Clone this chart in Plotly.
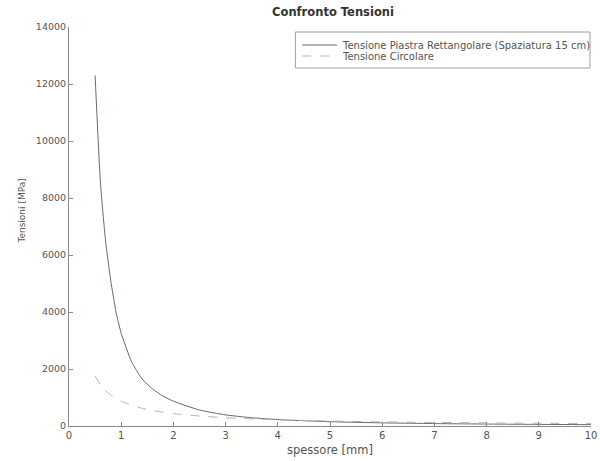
import plotly.graph_objects as go

# thickness values [mm]
spessore = [0.5, 0.6, 0.7, 0.8, 0.9, 1.0, 1.2, 1.4, 1.6, 1.8, 2.0,
            2.5, 3.0, 3.5, 4.0, 5.0, 6.0, 7.0, 8.0, 9.0, 10.0]

# rectangular plate stress [MPa]
tens_piastra = [12300, 8600, 6500, 5100, 4000, 3250, 2250, 1650, 1300, 1050, 870,
                560, 390, 290, 225, 150, 110, 85, 68, 56, 48]

# circular stress [MPa]
tens_circolare = [1750, 1450, 1240, 1090, 970, 870, 730, 620, 545, 485, 435,
                  350, 290, 250, 218, 175, 145, 125, 109, 97, 87]

x_ticks = [0, 1, 2, 3, 4, 5, 6, 7, 8, 9, 10]
y_ticks = [0, 2000, 4000, 6000, 8000, 10000, 12000, 14000]

names = ["Tensione Piastra Rettangolare (Spaziatura 15 cm)", "Tensione Circolare"]
colors = ["#5e6e6d", "#b0b0b0"]
dashes = ["solid", "dash"]

FONT = "DejaVu Sans, Verdana, sans-serif"
AX = "#8a8a8a"
TXT = "#555555"

# plot area in pixels
L, R, T, B = 69, 597, 27, 426
W, H = 600, 461


def px(xp):
    return (xp - L) / (R - L)


def py(yp):
    return (B - yp) / (B - T)


fig = go.Figure()
for xs, ys, n, c, d in [(spessore, tens_piastra, names[0], colors[0], dashes[0]),
                        (spessore, tens_circolare, names[1], colors[1], dashes[1])]:
    fig.add_trace(go.Scatter(
        x=xs, y=ys, mode="lines", name=n,
        line=dict(color=c, width=1, dash=d, shape="spline", smoothing=0.5),
    ))

# boxed legend in the top-right corner
shapes = [dict(type="rect", xref="paper", yref="paper",
               x0=px(298), x1=px(596), y0=py(68), y1=py(32),
               line=dict(color="#a0a0a0", width=1), fillcolor="white", layer="above")]
annotations = []
for i, (n, c, d) in enumerate(zip(names, colors, dashes)):
    yy = py(45 + 11 * i)
    shapes.append(dict(type="line", xref="paper", yref="paper",
                       x0=px(305), x1=px(340), y0=yy, y1=yy,
                       line=dict(color=c, width=1, dash=d), layer="above"))
    annotations.append(dict(xref="paper", yref="paper", x=px(343), y=yy,
                            xanchor="left", yanchor="middle", showarrow=False,
                            text=n, font=dict(family=FONT, size=10, color="#555555")))

# y-axis title
annotations.append(dict(xref="paper", yref="paper", x=px(21), y=py(211),
                        xanchor="center", yanchor="middle", showarrow=False,
                        textangle=-90, text="Tensioni [MPa]",
                        font=dict(family=FONT, size=9, color=TXT)))

fig.update_layout(
    width=W, height=H,
    margin=dict(l=L, r=W - R, t=T, b=H - B),
    paper_bgcolor="white", plot_bgcolor="white",
    font=dict(family=FONT, size=10, color=TXT),
    title=dict(text="<b>Confronto Tensioni</b>", x=(L + R) / 2 / W, xanchor="center",
               y=1 - 12 / H, yanchor="middle",
               font=dict(family=FONT, size=11.5, color="#333333")),
    showlegend=False,
    shapes=shapes,
    annotations=annotations,
)
fig.update_xaxes(
    range=[0, 10], tickvals=x_ticks, ticktext=[str(v) for v in x_ticks],
    showgrid=False, zeroline=False, showline=True, linecolor=AX, linewidth=1,
    ticks="inside", ticklen=4, tickcolor=AX, tickfont=dict(size=10, color=TXT),
    ticklabeloverflow="allow",
    title=dict(text="spessore [mm]", standoff=5, font=dict(size=11.5, color=TXT)),
)
fig.update_yaxes(
    range=[0, 14000], tickvals=y_ticks, ticktext=[str(v) for v in y_ticks],
    showgrid=False, zeroline=False, showline=True, linecolor=AX, linewidth=1,
    ticks="inside", ticklen=4, tickcolor=AX, tickfont=dict(size=9.5, color=TXT),
    ticklabeloverflow="allow",
)

fig.write_html("out.html")
